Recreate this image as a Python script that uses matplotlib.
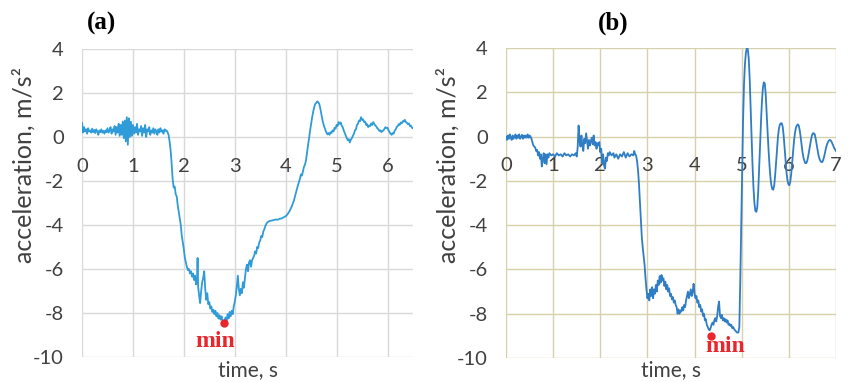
import matplotlib.pyplot as plt

# ---- panel (a): acceleration record, time in s, acceleration in m/s^2 ----
t_a = [0.00, 0.02, 0.04, 0.06, 0.08, 0.10, 0.12, 0.14, 0.16, 0.18,
       0.20, 0.22, 0.24, 0.26, 0.28, 0.30, 0.32, 0.34, 0.36, 0.38,
       0.40, 0.42, 0.44, 0.46, 0.48, 0.50, 0.52, 0.54, 0.56, 0.58,
       0.60, 0.62, 0.64, 0.66, 0.68, 0.70, 0.72, 0.74, 0.76, 0.78,
       0.80, 0.82, 0.84, 0.86, 0.88, 0.90, 0.92, 0.94, 0.96, 0.98,
       1.00, 1.02, 1.04, 1.06, 1.08, 1.10, 1.12, 1.14, 1.16, 1.18,
       1.20, 1.22, 1.24, 1.26, 1.28, 1.30, 1.32, 1.34, 1.36, 1.38,
       1.40, 1.42, 1.44, 1.46, 1.48, 1.50, 1.52, 1.54, 1.56, 1.58,
       1.60, 1.62, 1.64, 1.66, 1.68, 1.70, 1.72, 1.74, 1.76, 1.78,
       1.80, 1.82, 1.84, 1.86, 1.88, 1.90, 1.92, 1.94, 1.96, 1.98,
       2.00, 2.02, 2.04, 2.06, 2.08, 2.10, 2.12, 2.14, 2.16, 2.18,
       2.20, 2.22, 2.24, 2.26, 2.27, 2.28, 2.30, 2.32, 2.34, 2.36,
       2.38, 2.40, 2.42, 2.44, 2.46, 2.48, 2.50, 2.52, 2.54, 2.56,
       2.58, 2.60, 2.62, 2.64, 2.66, 2.68, 2.70, 2.72, 2.74, 2.76,
       2.79, 2.82, 2.84, 2.86, 2.88, 2.90, 2.92, 2.94, 2.96, 2.98,
       3.00, 3.02, 3.04, 3.06, 3.08, 3.10, 3.12, 3.14, 3.16, 3.18,
       3.20, 3.22, 3.24, 3.26, 3.28, 3.30, 3.32, 3.34, 3.36, 3.38,
       3.40, 3.42, 3.44, 3.46, 3.48, 3.50, 3.52, 3.54, 3.56, 3.58,
       3.60, 3.62, 3.64, 3.68, 3.72, 3.76, 3.80, 3.84, 3.88, 3.92,
       3.96, 4.00, 4.04, 4.08, 4.12, 4.16, 4.20, 4.24, 4.28, 4.30,
       4.32, 4.34, 4.36, 4.38, 4.40, 4.42, 4.44, 4.46, 4.48, 4.50,
       4.52, 4.54, 4.56, 4.58, 4.60, 4.62, 4.64, 4.66, 4.68, 4.70,
       4.72, 4.74, 4.76, 4.78, 4.80, 4.82, 4.84, 4.86, 4.88, 4.90,
       4.92, 4.94, 4.96, 4.98, 5.00, 5.02, 5.04, 5.06, 5.08, 5.10,
       5.12, 5.14, 5.16, 5.18, 5.20, 5.22, 5.24, 5.26, 5.28, 5.30,
       5.32, 5.34, 5.36, 5.38, 5.40, 5.42, 5.44, 5.46, 5.48, 5.50,
       5.52, 5.54, 5.56, 5.58, 5.60, 5.62, 5.64, 5.66, 5.68, 5.70,
       5.72, 5.74, 5.76, 5.78, 5.80, 5.82, 5.84, 5.86, 5.88, 5.90,
       5.92, 5.94, 5.96, 5.98, 6.00, 6.02, 6.04, 6.06, 6.08, 6.10,
       6.12, 6.14, 6.16, 6.18, 6.20, 6.22, 6.24, 6.26, 6.28, 6.30,
       6.32, 6.34, 6.36, 6.38, 6.40, 6.42, 6.44, 6.46, 6.48, 6.50]
acc_a = [0.65, 0.20, 0.45, 0.25, 0.35, 0.15, 0.40, 0.25, 0.30, 0.20,
         0.38, 0.22, 0.32, 0.18, 0.35, 0.25, 0.10, 0.30, 0.22, 0.35,
         0.20, 0.28, 0.15, 0.30, 0.22, 0.40, 0.20, 0.30, 0.45, 0.15,
         0.35, 0.25, 0.50, 0.10, 0.45, 0.20, 0.60, 0.05, 0.55, 0.10,
         0.70, -0.05, 0.75, -0.20, 0.90, -0.35, 0.85, 0.00, 0.70, 0.05,
         0.55, 0.15, 0.45, 0.20, 0.60, 0.10, 0.35, 0.25, 0.50, 0.05,
         0.40, 0.20, 0.55, 0.00, 0.35, 0.25, 0.45, 0.10, 0.30, 0.20,
         0.40, 0.15, 0.35, 0.25, 0.10, 0.35, 0.20, 0.40, 0.25, 0.30,
         0.15, 0.35, 0.28, 0.30, 0.22, 0.10, -0.20, -0.60, -1.20, -1.90,
         -2.30, -2.25, -2.60, -2.70, -3.10, -3.40, -3.70, -4.00, -4.50, -4.80,
         -5.10, -5.50, -5.70, -5.90, -6.05, -6.00, -6.20, -6.10, -6.35, -6.20,
         -6.50, -6.30, -6.70, -6.40, -5.50, -6.80, -7.20, -7.55, -7.00, -6.60,
         -6.40, -6.10, -6.90, -7.40, -7.10, -7.60, -7.50, -7.80, -7.70, -7.95,
         -7.85, -8.05, -7.90, -8.15, -8.00, -8.25, -8.10, -8.30, -8.15, -8.35,
         -8.40, -8.20, -8.35, -8.05, -8.25, -7.95, -8.15, -7.90, -8.05, -7.70,
         -7.50, -7.20, -6.80, -6.30, -6.90, -7.20, -6.90, -7.10, -6.60, -6.85,
         -6.40, -6.00, -5.80, -6.10, -5.70, -5.60, -5.90, -5.60, -5.50, -5.40,
         -5.20, -5.30, -5.00, -5.05, -4.80, -4.70, -4.50, -4.55, -4.30, -4.20,
         -4.05, -3.95, -3.88, -3.82, -3.80, -3.78, -3.75, -3.76, -3.72, -3.70,
         -3.65, -3.60, -3.50, -3.35, -3.15, -2.90, -2.55, -2.20, -1.90, -1.70,
         -1.75, -1.55, -1.35, -1.25, -1.05, -0.70, -0.35, -0.05, 0.30, 0.60,
         0.90, 1.15, 1.35, 1.50, 1.55, 1.62, 1.58, 1.50, 1.30, 1.05,
         0.80, 0.60, 0.45, 0.32, 0.20, 0.12, 0.18, 0.10, 0.22, 0.18,
         0.30, 0.25, 0.42, 0.38, 0.55, 0.50, 0.68, 0.60, 0.66, 0.52,
         0.45, 0.30, 0.18, 0.05, -0.05, -0.15, -0.10, -0.25, -0.12, -0.05,
         0.05, 0.15, 0.30, 0.35, 0.55, 0.60, 0.75, 0.72, 0.90, 0.78,
         0.80, 0.68, 0.70, 0.55, 0.58, 0.45, 0.52, 0.50, 0.62, 0.55,
         0.68, 0.60, 0.52, 0.48, 0.40, 0.35, 0.28, 0.30, 0.22, 0.28,
         0.30, 0.38, 0.45, 0.40, 0.42, 0.30, 0.22, 0.15, 0.10, 0.18,
         0.15, 0.28, 0.35, 0.45, 0.50, 0.58, 0.55, 0.66, 0.62, 0.72,
         0.70, 0.78, 0.68, 0.65, 0.58, 0.62, 0.50, 0.52, 0.42, 0.40]
min_a = (2.78, -8.45)

# ---- panel (b) ----
t_b = [0.00, 0.02, 0.04, 0.06, 0.08, 0.10, 0.12, 0.14, 0.16, 0.18,
       0.20, 0.22, 0.24, 0.26, 0.28, 0.30, 0.32, 0.34, 0.36, 0.38,
       0.40, 0.42, 0.44, 0.46, 0.48, 0.50, 0.52, 0.54, 0.56, 0.58,
       0.60, 0.62, 0.64, 0.66, 0.68, 0.70, 0.72, 0.74, 0.76, 0.78,
       0.80, 0.82, 0.84, 0.86, 0.88, 0.90, 0.92, 0.96, 1.00, 1.04,
       1.08, 1.12, 1.16, 1.20, 1.24, 1.28, 1.32, 1.36, 1.40, 1.44,
       1.48, 1.50, 1.52, 1.54, 1.56, 1.58, 1.60, 1.62, 1.64, 1.66,
       1.68, 1.70, 1.72, 1.74, 1.76, 1.78, 1.80, 1.82, 1.84, 1.86,
       1.88, 1.90, 1.92, 1.94, 1.96, 1.98, 2.00, 2.02, 2.04, 2.06,
       2.08, 2.10, 2.12, 2.14, 2.16, 2.18, 2.20, 2.24, 2.28, 2.30,
       2.34, 2.38, 2.42, 2.46, 2.50, 2.54, 2.58, 2.62, 2.66, 2.70,
       2.72, 2.74, 2.76, 2.78, 2.80, 2.82, 2.84, 2.86, 2.88, 2.90,
       2.92, 2.94, 2.96, 2.98, 3.00, 3.02, 3.04, 3.06, 3.08, 3.10,
       3.12, 3.14, 3.16, 3.18, 3.20, 3.22, 3.24, 3.26, 3.28, 3.30,
       3.32, 3.34, 3.36, 3.38, 3.40, 3.42, 3.44, 3.46, 3.48, 3.50,
       3.52, 3.54, 3.56, 3.58, 3.60, 3.62, 3.64, 3.66, 3.68, 3.70,
       3.72, 3.74, 3.76, 3.78, 3.80, 3.82, 3.84, 3.86, 3.88, 3.90,
       3.92, 3.94, 3.96, 3.98, 4.00, 4.02, 4.04, 4.06, 4.08, 4.10,
       4.12, 4.14, 4.16, 4.18, 4.20, 4.22, 4.24, 4.26, 4.28, 4.30,
       4.32, 4.34, 4.36, 4.38, 4.40, 4.42, 4.44, 4.46, 4.48, 4.50,
       4.52, 4.54, 4.56, 4.58, 4.60, 4.62, 4.64, 4.66, 4.68, 4.70,
       4.72, 4.74, 4.76, 4.78, 4.80, 4.82, 4.84, 4.86, 4.88, 4.90,
       4.93, 4.95, 4.97, 4.99, 5.01, 5.03, 5.05, 5.07, 5.09, 5.11,
       5.13, 5.15, 5.17, 5.19, 5.21, 5.23, 5.25, 5.27, 5.29, 5.31,
       5.33, 5.35, 5.37, 5.39, 5.41, 5.43, 5.45, 5.47, 5.49, 5.51,
       5.53, 5.55, 5.57, 5.59, 5.61, 5.63, 5.65, 5.67, 5.69, 5.71,
       5.73, 5.75, 5.77, 5.79, 5.81, 5.83, 5.85, 5.87, 5.89, 5.91,
       5.93, 5.95, 5.97, 5.99, 6.01, 6.03, 6.05, 6.07, 6.09, 6.11,
       6.13, 6.15, 6.17, 6.19, 6.21, 6.23, 6.25, 6.27, 6.29, 6.31,
       6.33, 6.35, 6.37, 6.39, 6.41, 6.43, 6.45, 6.47, 6.49, 6.51,
       6.53, 6.55, 6.57, 6.59, 6.61, 6.63, 6.65, 6.67, 6.69, 6.71,
       6.73, 6.75, 6.77, 6.79, 6.81, 6.83, 6.85, 6.87, 6.89, 6.91,
       6.93, 6.95, 6.97, 7.00]
acc_b = [0.00, -0.15, 0.05, -0.10, 0.10, -0.05, -0.15, 0.05, -0.10, 0.00,
         0.10, -0.10, 0.05, -0.05, 0.10, -0.10, 0.00, 0.08, -0.10, 0.05,
         -0.05, 0.05, -0.05, 0.10, -0.05, 0.05, 0.00, -0.10, -0.25, -0.40,
         -0.45, -0.50, -0.65, -0.60, -0.85, -0.70, -1.00, -0.80, -1.35, -1.00,
         -0.75, -1.20, -0.80, -1.25, -0.80, -0.95, -0.75, -0.85, -0.80, -0.90,
         -0.75, -0.85, -0.80, -0.90, -0.75, -0.85, -0.80, -0.90, -0.80, -0.85,
         -0.75, -0.90, -0.50, 0.50, -0.20, -0.45, 0.05, -0.40, -0.65, -0.10,
         -0.30, 0.15, -0.20, -0.55, -0.15, -0.40, -0.20, -0.05, -0.35, 0.05,
         -0.40, -0.25, -0.55, -0.30, -0.40, -0.25, -0.70, -0.55, -1.20, -0.80,
         -1.30, -1.45, -0.95, -1.10, -0.75, -0.85, -0.70, -0.85, -0.75, -0.95,
         -0.80, -1.00, -0.80, -0.90, -0.70, -0.95, -0.75, -0.90, -0.80, -0.85,
         -0.65, -0.80, -0.85, -1.10, -1.50, -2.10, -2.90, -3.70, -4.50, -5.00,
         -5.40, -5.80, -6.40, -6.90, -7.30, -7.10, -7.40, -6.90, -7.20, -6.80,
         -7.30, -6.90, -7.10, -6.70, -7.00, -6.50, -6.70, -6.30, -6.60, -6.25,
         -6.50, -6.40, -6.75, -6.55, -6.90, -6.70, -7.00, -6.85, -7.20, -7.10,
         -7.35, -7.25, -7.50, -7.40, -7.60, -7.70, -8.00, -7.80, -8.00, -7.85,
         -7.90, -7.70, -7.85, -7.60, -7.70, -7.40, -7.20, -7.00, -7.30, -7.10,
         -6.90, -7.20, -7.00, -6.65, -7.10, -7.30, -7.20, -7.50, -7.40, -7.70,
         -7.60, -7.90, -7.80, -8.10, -8.00, -8.30, -8.25, -8.50, -8.60, -8.70,
         -8.75, -8.65, -8.50, -8.40, -8.50, -8.30, -8.20, -8.35, -8.10, -7.70,
         -7.45, -8.10, -8.20, -8.05, -8.30, -8.20, -8.35, -8.25, -8.40, -8.30,
         -8.50, -8.45, -8.55, -8.50, -8.65, -8.60, -8.70, -8.75, -8.80, -8.85,
         -8.85, -8.60, -6.50, -4.00, -1.50, 0.80, 2.40, 3.30, 3.80, 4.00,
         3.95, 3.50, 2.60, 1.30, 0.00, -1.30, -2.30, -3.00, -3.35, -3.40,
         -3.20, -2.50, -1.50, -0.40, 0.70, 1.60, 2.20, 2.45, 2.40, 1.90,
         1.00, 0.20, -0.60, -1.30, -1.85, -2.20, -2.38, -2.40, -2.20, -1.75,
         -1.15, -0.50, 0.00, 0.35, 0.55, 0.60, 0.60, 0.45, 0.05, -0.50,
         -1.10, -1.60, -1.95, -2.15, -2.20, -2.05, -1.70, -1.20, -0.70, -0.20,
         0.15, 0.40, 0.50, 0.55, 0.50, 0.30, 0.00, -0.35, -0.70, -0.95,
         -1.10, -1.20, -1.20, -1.10, -0.90, -0.65, -0.40, -0.15, 0.05, 0.15,
         0.15, 0.10, -0.10, -0.35, -0.60, -0.85, -1.00, -1.10, -1.15, -1.15,
         -1.05, -0.90, -0.70, -0.50, -0.35, -0.25, -0.18, -0.15, -0.18, -0.25,
         -0.35, -0.45, -0.55, -0.65]
min_b = (4.35, -9.0)

y_ticks = [-10, -8, -6, -4, -2, 0, 2, 4]
x_ticks_a = [0, 1, 2, 3, 4, 5, 6]
x_ticks_b = [0, 1, 2, 3, 4, 5, 6, 7]

plt.rcParams['font.family'] = ['Lato', 'DejaVu Sans']
plt.rcParams['axes.unicode_minus'] = False

fig = plt.figure(figsize=(8.48, 3.82), dpi=100)
ax1 = fig.add_axes([0.0967, 0.0654, 0.3903, 0.8063])
ax2 = fig.add_axes([0.5967, 0.0628, 0.3891, 0.8115])


def setup(ax, xmax, xticks, grid_color):
    ax.set_xlim(0, xmax)
    ax.set_ylim(-10, 4)
    ax.set_xticks(xticks)
    ax.set_yticks(y_ticks)
    ax.grid(True, color=grid_color, linewidth=1.0)
    ax.set_axisbelow(True)
    for s in ax.spines.values():
        s.set_visible(False)
    # x labels hang under the zero line, Excel style
    ax.spines['bottom'].set_position(('data', 0))
    ax.tick_params(axis='both', length=0, labelsize=14.5, labelcolor='#404040')
    ax.tick_params(axis='x', pad=15)
    ax.tick_params(axis='y', pad=13)


setup(ax1, 6.5, x_ticks_a, '#d9d9d9')
setup(ax2, 7, x_ticks_b, '#d6d0ad')

ax1.plot(t_a, acc_a, color='#2f9bd8', lw=1.3)
ax2.plot(t_b, acc_b, color='#2e7dc5', lw=1.3)

red = '#e8262b'
serif = dict(family='Liberation Serif', weight='bold')
ax1.plot(*min_a, 'o', color=red, ms=5)
ax1.text(2.61, -9.3, 'min', color=red, ha='center', va='center', fontsize=17, **serif)
ax2.plot(*min_b, 'o', color=red, ms=5)
ax2.text(4.65, -9.5, 'min', color=red, ha='center', va='center', fontsize=17, **serif)

fig.text(102 / 848, 1 - 23 / 382, '(a)', ha='center', va='center', fontsize=18, **serif)
fig.text(613 / 848, 1 - 23 / 382, '(b)', ha='center', va='center', fontsize=18, **serif)

for x in (24, 448):
    fig.text(x / 848, 1 - 165 / 382, 'acceleration, m/s²', rotation=90,
             ha='center', va='center', fontsize=18, color='#404040')
for x in (248, 671):
    fig.text(x / 848, 1 - 370 / 382, 'time, s', ha='center', va='center',
             fontsize=15, color='#404040')

fig.savefig('out.png', dpi=100)
